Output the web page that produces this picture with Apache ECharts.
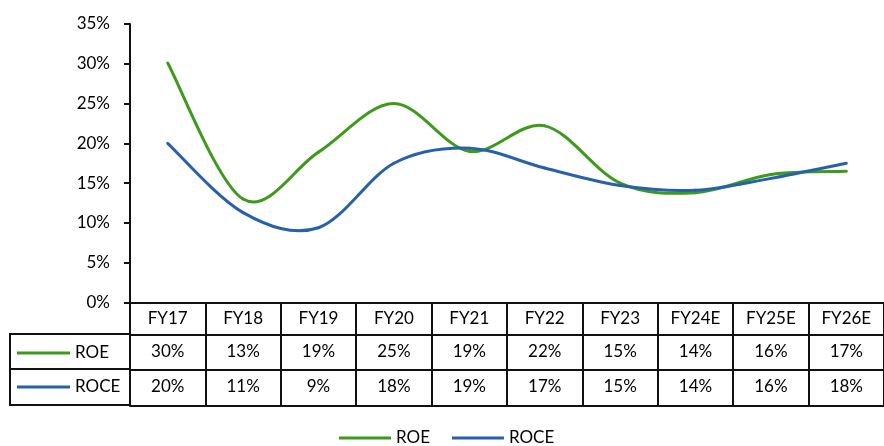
<!DOCTYPE html>
<html>
<head>
<meta charset="utf-8">
<style>
  html, body { margin: 0; padding: 0; background: #fff; }
  #chart { width: 884px; height: 446px; }
</style>
<script src="https://cdn.jsdelivr.net/npm/echarts@6/dist/echarts.min.js"></script>
</head>
<body>
<div id="chart"></div>
<script>
// Fiscal years and return ratios (%)
const years = ['FY17', 'FY18', 'FY19', 'FY20', 'FY21', 'FY22', 'FY23', 'FY24E', 'FY25E', 'FY26E'];
const roe  = [30.1, 13.0, 18.9, 25.0, 19.0, 22.2, 15.0, 13.8, 16.1, 16.5];
const roce = [20.0, 11.3, 9.4, 17.5, 19.4, 16.9, 14.7, 14.1, 15.6, 17.5];
const yTicks = { min: 0, max: 35, interval: 5 };

const GREEN = '#3E9A1C';
const BLUE = '#2761AA';
const INK = '#111';
const FONT = 'Lato, "Open Sans", sans-serif';
const FS = 17;

const pct = v => Math.round(v) + '%';

// A data-table row drawn as an extra category axis under the plot
function tableAxis(offset, tickLen, values, margin) {
  return {
    type: 'category',
    data: years,
    gridIndex: 0,
    position: 'bottom',
    offset: offset,
    boundaryGap: true,
    axisLine: { show: true, lineStyle: { color: INK, width: 2 } },
    axisTick: { show: tickLen > 0, length: tickLen, interval: 0, lineStyle: { color: INK, width: 2 } },
    axisLabel: {
      show: !!values,
      interval: 0,
      margin: margin || 10,
      color: '#000',
      fontSize: FS,
      fontFamily: FONT,
      formatter: (v, i) => values ? values[i] : ''
    },
    splitLine: { show: false }
  };
}

// Smoothed line: each item draws the cubic segment to the next point,
// with Catmull-Rom style tangents computed from neighbouring points.
function smoothSeries(name, values, color) {
  return {
    name: name,
    type: 'custom',
    coordinateSystem: 'cartesian2d',
    xAxisIndex: 0,
    yAxisIndex: 0,
    data: values.map((v, i) => [i, v]),
    encode: { x: 0, y: 1 },
    itemStyle: { color: color },
    renderItem: function (params, api) {
      const i = params.dataIndex;
      const n = values.length;
      if (i >= n - 1) return null;
      const pt = k => api.coord([Math.max(0, Math.min(n - 1, k)), values[Math.max(0, Math.min(n - 1, k))]]);
      const p0 = pt(i - 1), p1 = pt(i), p2 = pt(i + 1), p3 = pt(i + 2);
      return {
        type: 'bezierCurve',
        shape: {
          x1: p1[0], y1: p1[1],
          x2: p2[0], y2: p2[1],
          cpx1: p1[0] + (p2[0] - p0[0]) / 6, cpy1: p1[1] + (p2[1] - p0[1]) / 6,
          cpx2: p2[0] - (p3[0] - p1[0]) / 6, cpy2: p2[1] - (p3[1] - p1[1]) / 6
        },
        style: { stroke: color, lineWidth: 3, fill: null, lineCap: 'round' }
      };
    }
  };
}

const legendText = { color: '#000', fontSize: FS, fontFamily: FONT, lineHeight: 18 };

const chart = echarts.init(document.getElementById('chart'));
chart.setOption({
  backgroundColor: '#fff',
  animation: false,
  grid: { left: 130, top: 24, width: 767, height: 278.5 },
  legend: [
    {
      data: ['ROE', 'ROCE'],
      top: 424,
      left: 334,
      icon: 'rect',
      itemWidth: 52,
      itemHeight: 3,
      itemGap: 22,
      textStyle: legendText
    },
    {
      data: ['ROE', 'ROCE'],
      orient: 'vertical',
      left: 12,
      top: 339,
      icon: 'rect',
      itemWidth: 53,
      itemHeight: 3,
      itemGap: 16,
      selectedMode: false,
      textStyle: legendText
    }
  ],
  xAxis: [
    tableAxis(0, 32, years, 8),
    tableAxis(32, 35, roe.map(pct), 9),
    tableAxis(67, 36, roce.map(pct), 9),
    tableAxis(103, 0, null)
  ],
  yAxis: {
    type: 'value',
    min: yTicks.min,
    max: yTicks.max,
    interval: yTicks.interval,
    axisLine: { show: true, lineStyle: { color: INK, width: 2 } },
    axisTick: { show: true, length: 6, lineStyle: { color: INK, width: 2 } },
    axisLabel: { margin: 20, color: '#000', fontSize: FS, fontFamily: FONT, formatter: '{value}%' },
    splitLine: { show: false }
  },
  graphic: [
    {
      type: 'rect',
      shape: { x: 10, y: 334, width: 120, height: 71 },
      style: { fill: 'none', stroke: INK, lineWidth: 2 }
    },
    {
      type: 'line',
      shape: { x1: 10, y1: 369, x2: 130, y2: 369 },
      style: { stroke: INK, lineWidth: 2 }
    }
  ],
  series: [
    smoothSeries('ROE', roe, GREEN),
    smoothSeries('ROCE', roce, BLUE)
  ]
});
</script>
</body>
</html>
